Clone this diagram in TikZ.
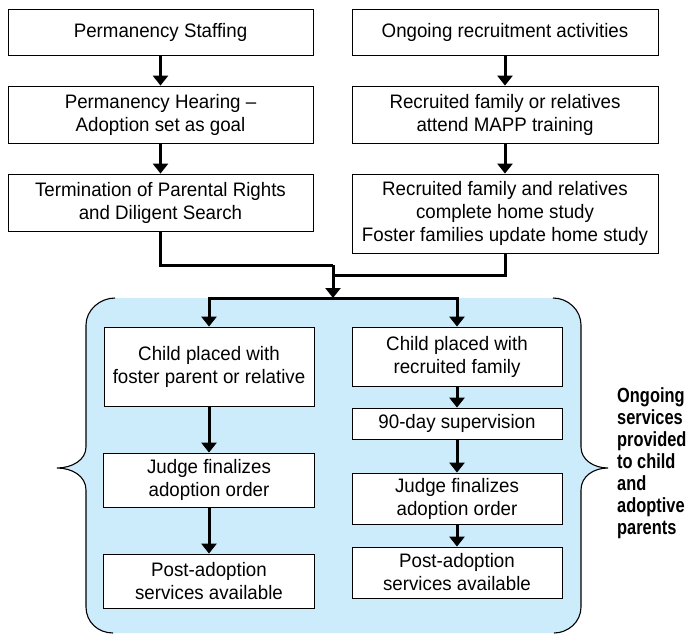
\documentclass[tikz,border=0pt]{standalone}
\usepackage{fontspec}
\setmainfont[FakeStretch=0.96]{Liberation Sans}
\newfontfamily\notefont[FakeStretch=0.8]{Liberation Sans}
\usetikzlibrary{arrows.meta}
\definecolor{paleblue}{RGB}{204,236,252}

\begin{document}
\begin{tikzpicture}[x=1pt,y=-1pt,>={Triangle[width=15pt,length=10pt]},
	stepbox/.style={draw,line width=0.8pt,fill=white,align=center,inner sep=0pt,font=\fontsize{19.5}{23}\selectfont},
	flow/.style={->,line width=3pt},
	brace/.style={line width=1.1pt}]
	\useasboundingbox (0,0) rectangle (689,635);

	\fill[paleblue] (115,298) -- (553,298) .. controls (568,298) and (581,310) .. (581,325) -- (581,447)
		.. controls (581,460) and (594,468) .. (608,468) .. controls (594,468) and (581,476) .. (581,490)
		-- (581,607) .. controls (581,622) and (568,633) .. (554,633) -- (113,633)
		.. controls (98,633) and (86,622) .. (86,607) -- (86,490)
		.. controls (86,476) and (72,468) .. (57,468) .. controls (72,468) and (86,460) .. (86,447)
		-- (86,325) .. controls (86,310) and (100,298) .. (115,298) -- cycle;
	\draw[brace] (115,298) .. controls (100,298) and (86,310) .. (86,325) -- (86,447)
		.. controls (86,460) and (72,468) .. (57,468) .. controls (72,468) and (86,476) .. (86,490)
		-- (86,607) .. controls (86,622) and (98,633) .. (113,633);
	\draw[brace] (553,298) .. controls (568,298) and (581,310) .. (581,325) -- (581,447)
		.. controls (581,460) and (594,468) .. (608,468) .. controls (594,468) and (581,476) .. (581,490)
		-- (581,607) .. controls (581,622) and (568,633) .. (554,633);

	\node[stepbox,minimum width=305pt,minimum height=46pt] (STAFF)   at (160.5,32)    {Permanency Staffing};
	\node[stepbox,minimum width=305pt,minimum height=57pt] (HEAR)    at (160.5,114.5) {Permanency Hearing --\\Adoption set as goal};
	\node[stepbox,minimum width=305pt,minimum height=57pt] (TPR)     at (160.5,202.5) {Termination of Parental Rights\\and Diligent Search};
	\node[stepbox,minimum width=306pt,minimum height=46pt] (RECRUIT) at (505,32)      {Ongoing recruitment activities};
	\node[stepbox,minimum width=306pt,minimum height=57pt] (MAPP)    at (505,114.5)   {Recruited family or relatives\\attend MAPP training};
	\node[stepbox,minimum width=306pt,minimum height=79pt] (STUDY)   at (505,213.5)   {Recruited family and relatives\\complete home study\\Foster families update home study};

	\node[stepbox,minimum width=210pt,minimum height=79pt] (PLACEF)  at (209,366.5)   {Child placed with\\foster parent or relative};
	\node[stepbox,minimum width=211pt,minimum height=54pt] (JUDGEF)  at (209,480)     {Judge finalizes\\adoption order};
	\node[stepbox,minimum width=211pt,minimum height=54pt] (POSTF)   at (209,581)     {Post-adoption\\services available};
	\node[stepbox,minimum width=210pt,minimum height=59pt] (PLACER)  at (457,356.5)   {Child placed with\\recruited family};
	\node[stepbox,minimum width=210pt,minimum height=31pt] (SUPER)   at (457,423.5)   {90-day supervision};
	\node[stepbox,minimum width=210pt,minimum height=51pt] (JUDGER)  at (457,498.5)   {Judge finalizes\\adoption order};
	\node[stepbox,minimum width=210pt,minimum height=51pt] (POSTR)   at (457,572.5)   {Post-adoption\\services available};

	\node[align=left,anchor=north west,inner sep=0pt,font=\notefont\bfseries\fontsize{20.5}{22}\selectfont] (NOTE) at (617,387)
		{Ongoing\\services\\provided\\to child\\and\\adoptive\\parents};

	\coordinate (MERGE) at (333,265);
	\coordinate (JOIN)  at (333,275);
	\coordinate (SPLIT) at (333,298);

	\draw[flow] (STAFF) -- (HEAR);
	\draw[flow] (HEAR) -- (TPR);
	\draw[flow] (RECRUIT) -- (MAPP);
	\draw[flow] (MAPP) -- (STUDY);
	\draw[line width=3pt] (TPR) |- (MERGE);
	\draw[line width=3pt] (STUDY) |- (JOIN);
	\draw[flow] (MERGE) -- (SPLIT);
	\draw[flow] (SPLIT) -| (PLACEF);
	\draw[flow] (SPLIT) -| (PLACER);
	\draw[flow] (PLACEF) -- (JUDGEF);
	\draw[flow] (JUDGEF) -- (POSTF);
	\draw[flow] (PLACER) -- (SUPER);
	\draw[flow] (SUPER) -- (JUDGER);
	\draw[flow] (JUDGER) -- (POSTR);
\end{tikzpicture}
\end{document}
